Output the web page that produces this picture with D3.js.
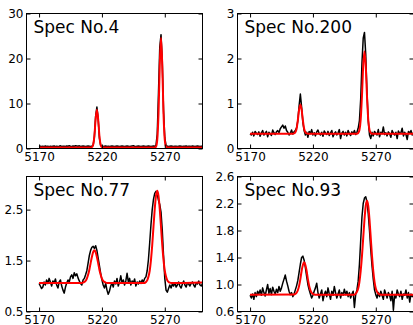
<!DOCTYPE html>
<html>
<head>
<meta charset="utf-8">
<script src="https://cdn.jsdelivr.net/npm/d3@7"></script>
<style>
  html, body { margin: 0; padding: 0; background: #fff; }
  svg { display: block; }
  text { font-family: "DejaVu Sans", sans-serif; fill: #000; }
</style>
</head>
<body>
<svg id="chart" width="413" height="325"></svg>
<script>
// ---- data ----
const wave = d3.range(5170, 5301); // 1 Å sampling grid, 5170..5300
const xTicks = [5170, 5220, 5270];

const spec4Obs = [
  .40,.50,.45,.50,.40,.55,.45,.50,.40,.50,
  .45,.50,.55,.40,.50,.45,.50,.60,.45,.50,
  .50,.45,.55,.50,.60,.50,.45,.55,.50,.60,
  .55,.50,.60,.45,.50,.55,.50,.45,.50,.55,
  .50,.45,.50,.70,2.6,7.2,9.2,6.6,2.3,.70,
  .50,.45,.50,.55,.45,.50,.45,.50,.55,.50,
  .45,.50,.55,.50,.45,.50,.55,.50,.45,.50,
  .55,.50,.45,.50,.55,.60,.50,.45,.50,.55,
  .50,.45,.50,.55,.50,.45,.50,.55,.50,.45,
  .50,.55,.50,.70,3.2,12.5,22.5,25.3,19.5,8.5,
  2.4,.70,.50,.45,.50,.55,.50,.45,.50,.50,
  .45,.50,.55,.50,.45,.50,.50,.55,.45,.50,
  .50,.45,.55,.50,.45,.50,.55,.50,.45,.50,.50
];
const spec4Fit = [[5170,.25],[5211,.25],[5212,.3],[5213,.8],[5214,2.8],[5215,6.5],[5216,8.6],[5217,6.5],[5218,2.8],[5219,.8],[5220,.3],[5221,.25],
  [5262,.25],[5263,.4],[5264,1.9],[5265,7.7],[5266,18.4],[5267,24.6],[5268,18.4],[5269,7.7],[5270,1.9],[5271,.4],[5272,.25],[5300,.25]];

const spec200Obs = [
  .33,.30,.36,.28,.38,.34,.31,.37,.27,.35,
  .40,.30,.34,.38,.26,.36,.33,.29,.41,.35,
  .31,.37,.40,.35,.44,.48,.52,.45,.50,.40,
  .36,.30,.34,.41,.32,.37,.40,.46,.62,.95,
  1.21,.92,.58,.40,.30,.36,.25,.38,.33,.42,
  .30,.35,.28,.37,.41,.33,.30,.36,.27,.39,
  .34,.31,.38,.29,.35,.40,.26,.33,.37,.30,
  .35,.42,.22,.34,.38,.30,.36,.28,.40,.33,
  .29,.37,.33,.40,.31,.36,.45,.62,1.10,1.90,
  2.45,2.58,2.10,1.25,.62,.30,.22,.36,.28,.38,
  .34,.30,.42,.26,.36,.33,.48,.31,.35,.28,
  .37,.33,.25,.40,.34,.30,.36,.22,.39,.33,
  .35,.45,.28,.36,.31,.20,.38,.34,.40,.30,.35
];
const spec200Fit = [[5170,.33],[5204,.33],[5205,.335],[5206,.36],[5207,.44],[5208,.63],[5209,.865],[5210,.98],[5211,.865],[5212,.63],[5213,.44],[5214,.36],[5215,.335],[5216,.33],
  [5255,.33],[5256,.344],[5257,.41],[5258,.645],[5259,1.17],[5260,1.84],[5261,2.16],[5262,1.84],[5263,1.17],[5264,.645],[5265,.41],[5266,.344],[5267,.33],[5300,.33]];

const spec77Obs = [
  1.05,1.00,.95,.98,1.08,1.02,1.12,1.05,1.15,1.08,
  1.00,1.10,1.06,1.14,1.02,.96,1.08,1.12,1.00,.92,
  .86,.98,1.06,1.12,1.08,1.18,1.22,1.15,1.26,1.20,
  1.24,1.16,1.10,1.05,1.02,1.12,1.15,1.22,1.30,1.45,
  1.60,1.70,1.76,1.78,1.74,1.79,1.70,1.55,1.40,1.25,
  1.12,1.02,.96,1.05,.92,.84,.90,1.00,1.06,.98,
  1.10,1.04,1.15,1.00,1.08,1.20,1.06,1.12,1.02,1.10,
  1.25,1.08,1.15,1.02,1.10,1.06,1.14,1.00,1.08,1.04,
  1.10,1.05,1.12,1.08,1.15,1.18,1.30,1.52,1.85,2.20,
  2.50,2.70,2.82,2.86,2.80,2.68,2.60,2.45,2.10,1.60,
  1.15,.92,.88,.95,1.02,.96,1.04,1.00,1.06,.98,
  1.02,1.08,1.00,.96,1.04,1.10,1.02,.98,1.06,1.04,
  1.00,1.05,1.08,1.02,.98,1.06,1.04,1.10,1.02,1.00,1.05
];
const spec77Fit = [[5170,1.06],[5204,1.06],[5205,1.067],[5206,1.08],[5207,1.10],[5208,1.146],[5209,1.22],[5210,1.32],[5211,1.45],[5212,1.57],[5213,1.665],[5214,1.70],[5215,1.665],[5216,1.57],[5217,1.45],[5218,1.32],[5219,1.22],[5220,1.146],[5221,1.10],[5222,1.08],[5223,1.067],[5224,1.06],
  [5254,1.06],[5255,1.08],[5256,1.11],[5257,1.18],[5258,1.30],[5259,1.51],[5260,1.80],[5261,2.16],[5262,2.51],[5263,2.77],[5264,2.87],[5265,2.77],[5266,2.51],[5267,2.16],[5268,1.80],[5269,1.51],[5270,1.30],[5271,1.18],[5272,1.11],[5273,1.08],[5274,1.067],[5275,1.06],[5300,1.07]];

const spec93Obs = [
  .84,.80,.86,.78,.88,.82,.90,.86,.92,.84,
  .95,.88,.83,.92,1.00,.87,.94,.85,.96,.90,
  .86,.93,.88,.97,.90,.95,1.02,1.08,1.14,1.05,
  .98,.90,.85,.88,.82,.86,.92,.98,1.06,1.18,
  1.30,1.40,1.42,1.36,1.25,1.12,1.00,.92,.86,.80,
  .84,.90,.95,1.02,.88,.80,.86,.92,.76,.85,
  .90,.82,.95,.86,.78,.90,.84,.97,.88,.80,
  .86,.92,.80,.88,.84,.93,.85,.90,.82,.88,
  .80,.86,.90,.66,.85,.92,1.05,1.30,1.65,2.00,
  2.20,2.28,2.30,2.22,2.05,1.80,1.52,1.28,1.08,.92,
  .85,.80,.88,.82,.90,.84,.78,.92,.86,.80,
  .88,.84,.76,.90,.62,.85,.80,.92,.86,.82,
  .90,.78,.86,.84,.92,.80,.88,.74,.86,.82,.85
];
const spec93Fit = [[5170,.85],[5205,.853],[5206,.86],[5207,.877],[5208,.915],[5209,.98],[5210,1.08],[5211,1.20],[5212,1.29],[5213,1.33],[5214,1.29],[5215,1.20],[5216,1.08],[5217,.98],[5218,.915],[5219,.877],[5220,.86],[5221,.853],[5222,.85],
  [5253,.85],[5254,.865],[5255,.89],[5256,.94],[5257,1.04],[5258,1.20],[5259,1.42],[5260,1.69],[5261,1.96],[5262,2.165],[5263,2.24],[5264,2.165],[5265,1.96],[5266,1.69],[5267,1.42],[5268,1.20],[5269,1.04],[5270,.94],[5271,.89],[5272,.865],[5273,.855],[5274,.85],[5300,.85]];

const titles = ["Spec No.4", "Spec No.200", "Spec No.77", "Spec No.93"];
const yDomains = [[0, 30], [0, 3], [0.5, 3.15], [0.6, 2.6]];
const yTicks = [[0, 10, 20, 30], [0, 1, 2, 3], [0.5, 1.5, 2.5], [0.6, 1.0, 1.4, 1.8, 2.2, 2.6]];
const yFormats = [d3.format("d"), d3.format("d"), d3.format(".1f"), d3.format(".1f")];

// ---- layout ----
const boxes = [
  {left: 26, top: 13},
  {left: 237, top: 13},
  {left: 26, top: 176},
  {left: 237, top: 176}
];
const W = 176, H = 135;
const obsList = [spec4Obs, spec200Obs, spec77Obs, spec93Obs];
const fitList = [spec4Fit, spec200Fit, spec77Fit, spec93Fit];

const svg = d3.select("#chart");

boxes.forEach((b, i) => {
  const g = svg.append("g").attr("transform", `translate(${b.left + 0.5},${b.top + 0.5})`);
  const x = d3.scaleLinear().domain([5160, 5300]).range([0, W]);
  const y = d3.scaleLinear().domain(yDomains[i]).range([H, 0]);

  g.append("clipPath").attr("id", "clip" + i)
    .append("rect").attr("x", 0).attr("y", 0).attr("width", W).attr("height", H);

  const plot = g.append("g").attr("clip-path", `url(#clip${i})`);

  const lineObs = d3.line().x((d, j) => x(wave[j])).y(d => y(d));
  plot.append("path").datum(obsList[i])
    .attr("d", lineObs)
    .attr("fill", "none").attr("stroke", "#000").attr("stroke-width", 1.5)
    .attr("stroke-linejoin", "round");

  const lineFit = d3.line().x(d => x(d[0])).y(d => y(d[1])).curve(d3.curveMonotoneX);
  plot.append("path").datum(fitList[i])
    .attr("d", lineFit)
    .attr("fill", "none").attr("stroke", "#ff0000").attr("stroke-width", 2)
    .attr("stroke-linejoin", "round");

  // axes with inward ticks on all sides
  const axB = d3.axisBottom(x).tickValues(xTicks).tickSizeInner(-4).tickSizeOuter(0).tickPadding(4).tickFormat(d3.format("d"));
  const axT = d3.axisTop(x).tickValues(xTicks).tickSizeInner(-4).tickSizeOuter(0).tickFormat("");
  const axL = d3.axisLeft(y).tickValues(yTicks[i]).tickSizeInner(-4).tickSizeOuter(0).tickPadding(3).tickFormat(yFormats[i]);
  const axR = d3.axisRight(y).tickValues(yTicks[i]).tickSizeInner(-4).tickSizeOuter(0).tickFormat("");

  const gB = g.append("g").attr("transform", `translate(0,${H})`).call(axB);
  const gT = g.append("g").call(axT);
  const gL = g.append("g").call(axL);
  const gR = g.append("g").attr("transform", `translate(${W},0)`).call(axR);
  [gB, gT, gL, gR].forEach(a => {
    a.select(".domain").remove();
    a.selectAll("line").attr("stroke", "#000").attr("stroke-width", 1);
    a.selectAll("text").style("font-family", '"DejaVu Sans", sans-serif').style("font-size", "12px").attr("fill", "#000");
  });

  g.append("rect").attr("x", 0).attr("y", 0).attr("width", W).attr("height", H)
    .attr("fill", "none").attr("stroke", "#000").attr("stroke-width", 1);

  g.append("text").attr("x", 7).attr("y", 19)
    .style("font-size", "17px")
    .text(titles[i]);
});
</script>
</body>
</html>
